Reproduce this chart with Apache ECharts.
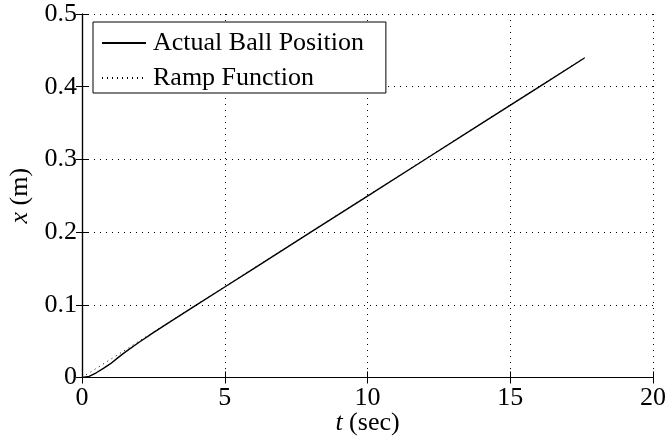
<!DOCTYPE html>
<html>
<head>
<meta charset="utf-8">
<script src="https://cdn.jsdelivr.net/npm/echarts@6/dist/echarts.min.js"></script>
<style>
  html, body { margin: 0; padding: 0; background: #fff; }
  #chart { width: 667px; height: 442px; }
</style>
</head>
<body>
<div id="chart"></div>
<script>
// Measured ball position x (m) against time t (sec)
const ballTime = [0, 0.25, 0.5, 0.75, 1, 1.25, 1.5, 2, 2.5, 3, 4, 5, 6, 8, 10, 12, 14, 16, 17.6];
const ballPos  = [0, 0.0015, 0.0065, 0.0125, 0.019, 0.027, 0.0345, 0.0485, 0.0618, 0.0745, 0.0995, 0.1245, 0.1495, 0.1995, 0.2495, 0.2995, 0.3495, 0.3995, 0.4395];

// Reference ramp input
const rampTime = [0, 17.6];
const rampPos  = [0, 0.44];

// Axis ticks
const xTicks = [0, 5, 10, 15, 20];
const yTicks = [0, 0.1, 0.2, 0.3, 0.4, 0.5];

const serif = 'Liberation Serif, Times New Roman, serif';
const FS = 26;
const pair = (a, b) => a.map((v, i) => [v, b[i]]);

const chart = echarts.init(document.getElementById('chart'), null, { renderer: 'canvas' });

const gridDots = { show: true, lineStyle: { color: '#000', width: 1, type: [1, 5] } };
const boxLine = { show: true, lineStyle: { color: '#000', width: 1.2 } };
const inTick = { show: true, inside: true, length: 6, lineStyle: { color: '#000', width: 1 } };
const nameStyle = { fontFamily: serif, fontSize: FS, color: '#000',
  rich: { i: { fontFamily: serif, fontStyle: 'italic', fontSize: FS, color: '#000' } } };

chart.setOption({
  animation: false,
  backgroundColor: '#fff',
  grid: { left: 82, right: 14, top: 14, bottom: 64.5, containLabel: false, outerBoundsMode: 'none' },
  legend: {
    left: 93, top: 22,
    orient: 'vertical',
    backgroundColor: '#fff',
    borderColor: '#000', borderWidth: 1,
    padding: [8, 22, 2, 8],
    itemWidth: 44, itemHeight: 14, itemGap: 9,
    itemStyle: { color: 'transparent', borderColor: 'transparent', borderWidth: 0 },
    textStyle: { fontFamily: serif, fontSize: FS, color: '#000', padding: [0, 0, 0, 2] },
    data: ['Actual Ball Position', 'Ramp Function']
  },
  xAxis: [{
    type: 'value', min: 0, max: 20, interval: 5,
    name: '{i|t} (sec)', nameLocation: 'middle', nameGap: 33, nameMoveOverlap: false,
    nameTextStyle: nameStyle,
    axisLine: boxLine, axisTick: inTick,
    axisLabel: { fontFamily: serif, fontSize: FS, color: '#000', margin: 8,
      formatter: v => xTicks.includes(v) ? String(v) : '' },
    splitLine: gridDots
  }, {
    type: 'value', min: 0, max: 20, interval: 5, position: 'top',
    axisLine: boxLine, axisTick: inTick, axisLabel: { show: false }, splitLine: { show: false }
  }],
  yAxis: [{
    type: 'value', min: 0, max: 0.5, interval: 0.1,
    name: '{i|x} (m)', nameLocation: 'middle', nameGap: 41, nameRotate: 90,
    nameTextStyle: nameStyle,
    axisLine: boxLine, axisTick: inTick,
    axisLabel: { fontFamily: serif, fontSize: FS, color: '#000', margin: 5,
      formatter: v => { const t = yTicks.find(y => Math.abs(y - v) < 1e-9); return t === undefined ? '' : String(t); } },
    splitLine: gridDots
  }, {
    type: 'value', min: 0, max: 0.5, interval: 0.1, position: 'right',
    axisLine: boxLine, axisTick: inTick, axisLabel: { show: false }, splitLine: { show: false }
  }],
  series: [{
    name: 'Actual Ball Position', type: 'line', showSymbol: false, symbol: 'none',
    data: pair(ballTime, ballPos),
    lineStyle: { color: '#000', width: 1.4, type: 'solid' }, itemStyle: { color: '#000' }, z: 3
  }, {
    name: 'Ramp Function', type: 'line', showSymbol: false, symbol: 'none',
    data: pair(rampTime, rampPos),
    lineStyle: { color: '#000', width: 1, type: [1, 4] }, itemStyle: { color: '#000' }, z: 2
  }]
});
</script>
</body>
</html>
